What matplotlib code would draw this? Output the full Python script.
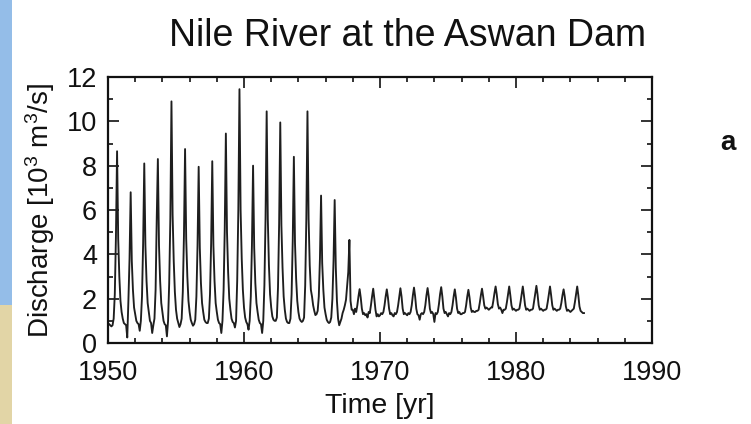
import numpy as np
import matplotlib
matplotlib.use("Agg")
import matplotlib.pyplot as plt
from matplotlib.patches import Rectangle
from matplotlib.ticker import MultipleLocator

plt.rcParams['font.family'] = ['Liberation Sans', 'DejaVu Sans']
plt.rcParams['mathtext.fontset'] = 'custom'
plt.rcParams['mathtext.rm'] = 'Liberation Sans'
plt.rcParams['mathtext.it'] = 'Liberation Sans'

# ---- data: monthly discharge (10^3 m^3/s), Jan..Dec per year ----
start_year = 1950
d1950 = [0.9, 0.85, 0.8, 0.75, 0.8, 1.1, 2.2, 4.8, 8.65, 4.7, 3.0, 1.9]
d1951 = [1.4, 1.1, 0.9, 0.85, 0.8, 0.25, 1.9, 3.8, 6.8, 3.7, 2.4, 1.6]
d1952 = [1.3, 1.0, 0.9, 0.85, 0.55, 1.0, 2.1, 4.5, 8.1, 4.4, 2.8, 1.8]
d1953 = [1.4, 1.0, 0.9, 0.45, 0.8, 1.1, 2.4, 5.6, 8.3, 4.4, 2.8, 1.8]
d1954 = [1.4, 1.0, 0.85, 0.8, 0.3, 1.0, 2.7, 5.6, 10.9, 5.8, 3.7, 2.3]
d1955 = [1.5, 1.1, 0.9, 0.72, 0.85, 1.1, 2.3, 4.8, 8.75, 4.7, 3.0, 1.9]
d1956 = [1.4, 1.05, 0.9, 0.78, 0.85, 1.05, 2.1, 4.4, 7.95, 4.3, 2.7, 1.8]
d1957 = [1.4, 1.05, 0.95, 0.9, 0.9, 1.1, 2.2, 4.5, 8.2, 4.4, 2.8, 1.8]
d1958 = [1.4, 1.05, 0.9, 0.85, 0.45, 1.0, 2.4, 5.1, 9.45, 5.0, 3.2, 2.0]
d1959 = [1.5, 1.1, 0.95, 0.9, 0.7, 1.0, 2.8, 6.0, 11.45, 6.0, 3.8, 2.4]
d1960 = [1.6, 1.15, 0.95, 0.85, 0.6, 1.0, 2.1, 4.4, 8.0, 4.3, 2.7, 1.8]
d1961 = [1.4, 1.05, 0.9, 0.85, 0.45, 1.0, 2.6, 5.6, 10.45, 5.6, 3.5, 2.2]
d1962 = [1.6, 1.2, 1.05, 1.0, 1.0, 1.15, 2.5, 5.4, 9.95, 5.3, 3.4, 2.1]
d1963 = [1.5, 1.1, 0.95, 0.9, 0.9, 1.1, 2.2, 4.6, 8.4, 4.5, 2.9, 1.9]
d1964 = [1.4, 1.1, 1.0, 0.95, 1.0, 1.15, 2.6, 5.6, 10.45, 5.6, 3.5, 2.4]
d1965 = [2.1, 1.7, 1.45, 1.26, 1.3, 1.45, 2.1, 3.8, 6.65, 3.6, 2.4, 1.6]
d1966 = [1.3, 1.05, 0.95, 0.9, 0.95, 1.15, 2.0, 3.7, 6.45, 3.4, 1.9, 1.1]
d1967 = [0.8, 0.95, 1.1, 1.35, 1.5, 1.7, 1.95, 2.6, 3.2, 4.65, 1.9, 1.5]
d1968 = [1.5, 1.3, 1.55, 1.4, 1.7, 2.1, 2.43, 2.05, 1.55, 1.3, 1.35, 1.25]
d1969 = [1.3, 1.15, 1.4, 1.35, 1.7, 2.1, 2.45, 2.0, 1.5, 1.2, 1.3, 1.2]
d1970 = [1.25, 1.35, 1.3, 1.4, 1.7, 2.1, 2.42, 2.05, 1.55, 1.3, 1.35, 1.25]
d1971 = [1.2, 1.35, 1.3, 1.4, 1.7, 2.1, 2.47, 2.1, 1.55, 1.3, 1.35, 1.3]
d1972 = [1.25, 1.35, 1.3, 1.4, 1.7, 2.15, 2.5, 2.1, 1.55, 1.3, 1.25, 1.05]
d1973 = [1.3, 1.35, 1.3, 1.4, 1.7, 2.15, 2.48, 2.1, 1.55, 1.35, 1.4, 1.3]
d1974 = [0.95, 1.35, 1.3, 1.4, 1.75, 2.2, 2.52, 2.1, 1.55, 1.35, 1.4, 1.3]
d1975 = [1.2, 1.35, 1.3, 1.4, 1.7, 2.1, 2.42, 2.05, 1.55, 1.35, 1.4, 1.3]
d1976 = [1.3, 1.35, 1.35, 1.4, 1.7, 2.1, 2.4, 2.05, 1.6, 1.4, 1.45, 1.4]
d1977 = [1.4, 1.45, 1.45, 1.5, 1.8, 2.15, 2.45, 2.1, 1.7, 1.55, 1.6, 1.55]
d1978 = [1.5, 1.55, 1.6, 1.6, 1.9, 2.25, 2.55, 2.2, 1.75, 1.55, 1.6, 1.5]
d1979 = [1.35, 1.5, 1.5, 1.55, 1.85, 2.2, 2.55, 2.15, 1.7, 1.5, 1.55, 1.5]
d1980 = [1.45, 1.5, 1.5, 1.55, 1.85, 2.2, 2.55, 2.15, 1.7, 1.5, 1.55, 1.5]
d1981 = [1.45, 1.5, 1.5, 1.55, 1.9, 2.25, 2.58, 2.2, 1.7, 1.5, 1.55, 1.5]
d1982 = [1.45, 1.5, 1.5, 1.55, 1.85, 2.2, 2.55, 2.15, 1.7, 1.5, 1.55, 1.5]
d1983 = [1.45, 1.5, 1.5, 1.55, 1.8, 2.15, 2.42, 2.1, 1.65, 1.45, 1.5, 1.45]
d1984 = [1.4, 1.45, 1.5, 1.55, 1.85, 2.2, 2.55, 2.15, 1.65, 1.45, 1.4, 1.35]
d1985 = [1.35]

discharge = (d1950 + d1951 + d1952 + d1953 + d1954 + d1955 + d1956 + d1957 +
             d1958 + d1959 + d1960 + d1961 + d1962 + d1963 + d1964 + d1965 +
             d1966 + d1967 + d1968 + d1969 + d1970 + d1971 + d1972 + d1973 +
             d1974 + d1975 + d1976 + d1977 + d1978 + d1979 + d1980 + d1981 +
             d1982 + d1983 + d1984 + d1985)
time = start_year + np.arange(len(discharge)) / 12.0

x_ticks = [1950, 1960, 1970, 1980, 1990]
y_ticks = [0, 2, 4, 6, 8, 10, 12]

title = "Nile River at the Aswan Dam"
xlabel = "Time [yr]"
ylabel = r"Discharge [10$^3$ m$^3$/s]"
panel = "a"

# ---- figure ----
W, H = 751, 424
fig = plt.figure(figsize=(W / 100, H / 100), dpi=100)
fig.patch.set_facecolor('white')

# slide background strip on the left edge
fig.patches.append(Rectangle((0, 1 - 305 / H), 12 / W, 305 / H, transform=fig.transFigure,
                             facecolor='#94bde8', edgecolor='none', zorder=0))
fig.patches.append(Rectangle((0, 0), 12 / W, 1 - 305 / H, transform=fig.transFigure,
                             facecolor='#e2d5a6', edgecolor='none', zorder=0))

ax = fig.add_axes([108 / W, 1 - 343 / H, (652 - 108) / W, (343 - 77) / H])
ax.plot(time, discharge, color='#1e1e1e', lw=1.35)

ax.set_xlim(1950, 1990)
ax.set_ylim(0, 12)
ax.set_xticks(x_ticks)
ax.set_yticks(y_ticks)
ax.xaxis.set_minor_locator(MultipleLocator(2))
ax.yaxis.set_minor_locator(MultipleLocator(1))
ax.tick_params(which='both', direction='in', top=True, right=True, width=1.2,
               colors='#111111', labelsize=19.5)
ax.tick_params(which='major', length=8)
ax.tick_params(which='minor', length=3.5)
ax.tick_params(axis='x', which='major', pad=12)
ax.tick_params(axis='y', which='major', pad=8)
for s in ax.spines.values():
    s.set_linewidth(1.6)
    s.set_color('#111111')

ax.set_xlabel(xlabel, fontsize=20.5, labelpad=5, color='#111111')
ax.set_ylabel(ylabel, fontsize=20, labelpad=7, color='#111111')

fig.text(408 / W, 1 - 36 / H, title, ha='center', va='center', fontsize=27, color='#111111')
fig.text(728 / W, 1 - 143 / H, panel, ha='center', va='center', fontsize=20,
         fontweight='bold', color='#111111')

fig.savefig('out.png', dpi=100)
